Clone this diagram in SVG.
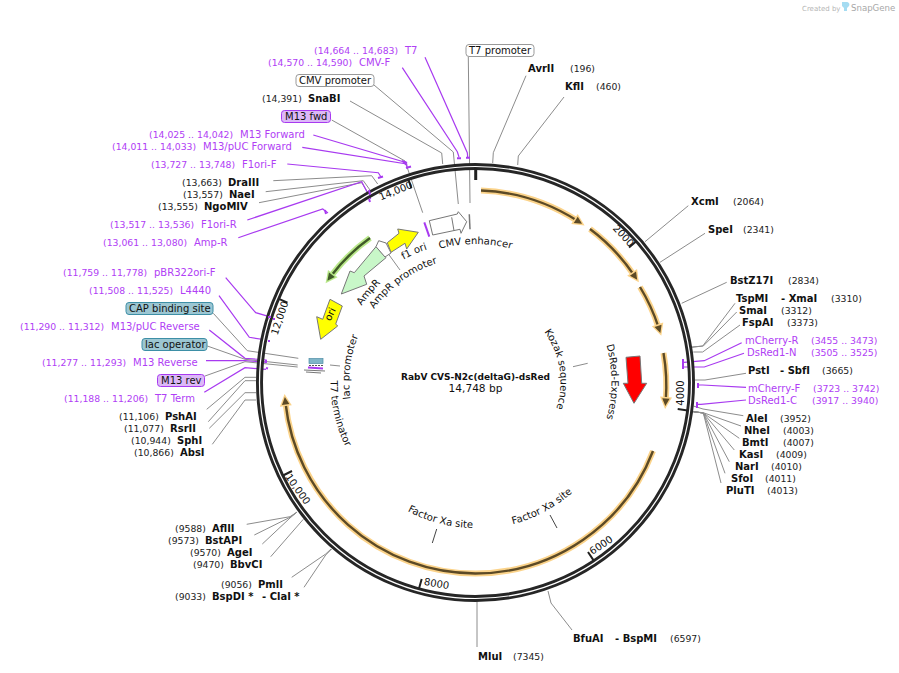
<svg xmlns="http://www.w3.org/2000/svg" xmlns:xlink="http://www.w3.org/1999/xlink" width="899" height="673" viewBox="0 0 899 673">
<style>
text{font-family:"DejaVu Sans",Verdana,sans-serif;font-size:10px;fill:#111}
.b{font-weight:bold}
.n{font-size:9.3px;fill:#222}
.p{fill:#b040f5}
.pn{fill:#b040f5;font-size:9.3px}
.g{fill:none;stroke:#8c8c8c;stroke-width:1}
.v{fill:none;stroke:#a83af0;stroke-width:1.2}
.t{fill:none;stroke:#a83af0;stroke-width:2}
.tick{fill:none;stroke:#222;stroke-width:2}
.box{stroke-width:1}
.halo{fill:none;stroke:#fbd38a;stroke-width:6}
.core{fill:none;stroke:#5c4a26;stroke-width:2.4;marker-end:url(#ah)}
.f{stroke:#777;stroke-width:1}
</style>
<defs>
<marker id="ah" markerUnits="userSpaceOnUse" markerWidth="18" markerHeight="18" refX="5" refY="9" orient="auto" viewBox="0 0 18 18"><polygon points="2,3 14,9 2,15" fill="#fbd38a"/><polygon points="3.500,5.300 11,9 3.500,12.700" fill="#5c4a26"/></marker>
<marker id="ag" markerUnits="userSpaceOnUse" markerWidth="18" markerHeight="18" refX="5" refY="9" orient="auto" viewBox="0 0 18 18"><polygon points="2,3 14,9 2,15" fill="#b9e88a"/><polygon points="3.500,5.300 11,9 3.500,12.700" fill="#3f5a28"/></marker>
<path id="pCMV" d="M386.8 276.3A138 138 0 0 1 564.2 276.3"/>
<path id="pF1" d="M347 318A138 138 0 0 1 508.500 248"/>
<path id="pAP" d="M354.2 351.8A125 125 0 0 1 484.2 257.3"/>
<path id="pA" d="M340.6 358.2A137 137 0 0 1 428.6 253.2"/>
<path id="pO" d="M318.5 382A157 157 0 0 1 374.6 261.7"/>
<path id="pL" d="M369.8 451.2A126 126 0 0 1 389.6 289.9"/>
<path id="pT" d="M346.3 316.2A145 145 0 0 0 388.2 497.8"/>
<path id="pX1" d="M373.3 486.2A146 146 0 0 0 514.8 522.6"/>
<path id="pX2" d="M470.4 528.9A147 147 0 0 0 600.2 459.9"/>
<path id="pK" d="M519.3 309.1A85 85 0 0 1 539.7 437.8"/>
<path id="pD" d="M579.7 294.6A136 136 0 0 1 579.7 469.4"/>
</defs>
<rect width="899" height="673" fill="#fff"/>

<g id="connectors">
<polyline class="g" points="468.3,57 470,203"/>
<polyline class="g" points="374,85 453.3,152 458.3,204"/>
<polyline class="g" points="350,101 441.7,153 442.7,164"/>
<polyline class="g" points="331.7,120 405,161 422.7,212.7"/>
<polyline class="v" points="425,57.3 467.3,152.7 467.7,157"/>
<polyline class="v" points="402.3,67.7 457.3,151.7 459,157"/>
<polyline class="v" points="313.3,135 403.3,161.7 406,165"/>
<polyline class="v" points="302.3,147.3 406.7,164 407,167"/>
<polyline class="v" points="287.3,164 378.3,172.7 381,177"/>
<polyline class="g" points="273.3,180.7 371.7,175.7 377.7,184"/>
<polyline class="g" points="265.7,191.7 363.3,180.7 370,190"/>
<polyline class="g" points="259,202.7 361.7,182.7 367.3,191.7"/>
<polyline class="v" points="247.3,220 361.7,181.7 370.7,199"/>
<polyline class="v" points="238.3,237.7 322.7,209 328,213"/>
<polyline class="v" points="225.7,277.7 255.7,312.7 269.3,316.7"/>
<polyline class="v" points="219,295.7 249.3,337.3 266.7,340"/>
<polyline class="g" points="213.3,313.3 247.3,350.7 298.3,358.3"/>
<polyline class="v" points="209.3,330 245,358.3 266.7,360"/>
<polyline class="g" points="207.3,346 245,359.3 297.7,365"/>
<polyline class="v" points="206,360.7 245,360.7 266.7,362.3"/>
<polyline class="g" points="205,376 245,361.7 297.7,367"/>
<polyline class="v" points="204.3,392.3 245,367.7 266,369.3"/>
<polyline class="g" points="206.7,409.3 245,377.3 256,377.3"/>
<polyline class="g" points="208.3,421.7 245,380.7 256,380.7"/>
<polyline class="g" points="209.3,428.3 245,392.7 256,392.7"/>
<polyline class="g" points="212.3,444.3 245,400 256,400"/>
<polyline class="g" points="526,75.7 493.3,152.7 492.7,163"/>
<polyline class="g" points="564,97 518.3,156 517.7,165"/>
<polyline class="g" points="688.3,205.7 645,241.7"/>
<polyline class="g" points="705,233.3 660,262.3"/>
<polyline class="g" points="726.7,282.3 681.7,303.3"/>
<polyline class="g" points="735,303.3 702.7,346 691.7,347.3"/>
<polyline class="g" points="736.7,312 703.3,346 692,347"/>
<polyline class="g" points="740,325 702.7,352 693.3,352"/>
<polyline class="v" points="741.7,342.7 704.3,360.7 684,362.3"/>
<polyline class="v" points="744,353.3 704.3,367 684,367"/>
<polyline class="g" points="746,373.3 705,380 695,380"/>
<polyline class="v" points="746,387.3 702.7,385 698.3,385"/>
<polyline class="v" points="746,400 701,404.3 697.3,404.3"/>
<polyline class="g" points="743.3,415.7 703,409 693.3,406"/>
<polyline class="g" points="741,426 703.3,412.7 693.3,411.7"/>
<polyline class="g" points="739.3,438.3 703.3,413 693.3,411.7"/>
<polyline class="g" points="734.3,450 703.3,413 693.3,411.7"/>
<polyline class="g" points="729.3,461.7 703.3,413 693.3,411.7"/>
<polyline class="g" points="725,473.3 703.3,413 693.3,411.7"/>
<polyline class="g" points="721,483 703.3,413 693.3,411.7"/>
<polyline class="g" points="572,630 551,603 548,591"/>
<polyline class="g" points="477,647 477,601"/>
<polyline class="g" points="246.7,524.3 290,516.7 296.7,512.3"/>
<polyline class="g" points="254.3,535 290,517.3 296.7,512.3"/>
<polyline class="g" points="262.3,544 290,518 296.7,512.3"/>
<polyline class="g" points="270.7,556.7 303.3,519.3"/>
<polyline class="g" points="291.7,577.3 325.7,554 331,549"/>
<polyline class="g" points="304,587.3 325.7,555 331.7,549"/>
<polyline class="g" points="387,252 400,270"/>
<polyline class="g" points="573,366.7 587.7,363.3"/>
<polyline class="g" points="550,515 557,528" style="stroke:#444"/>
<polyline class="g" points="436.7,529 432.3,543" style="stroke:#444"/>
<polyline class="g" points="330,365 340,366"/>
</g>

<g id="backbone">
<circle cx="475.5" cy="382.5" r="216" fill="none" stroke="#262626" stroke-width="7"/>
<circle cx="475.5" cy="382.5" r="216" fill="none" stroke="#fff" stroke-width="1.2"/>
<path class="tick" style="stroke-width:3" d="M475.7 168V180"/>
<path class="tick" d="M636.6 241L629 247.6M687.6 410.4L677.7 409M593.6 560.4L588 552M419 588.5L421.7 578.9M283 475.5L292 471M278.3 298.7L287.5 302.6M408.3 179L411.4 188.4"/>
<text transform="translate(621 238) rotate(47)" text-anchor="middle">2000</text>
<text transform="translate(684 393) rotate(-90)" text-anchor="middle">4000</text>
<text transform="translate(603 548) rotate(-33)" text-anchor="middle">6000</text>
<text transform="translate(436 587) rotate(10)" text-anchor="middle">8000</text>
<text transform="translate(295 491) rotate(55)" text-anchor="middle">10,000</text>
<text transform="translate(283 319) rotate(-72)" text-anchor="middle">12,000</text>
<text transform="translate(397 194) rotate(-22)" text-anchor="middle">14,000</text>
</g>

<g id="orf-arcs">
<path class="halo" d="M481 190.5A192 192 0 0 1 577 220.6"/><path class="core" d="M481 190.5A192 192 0 0 1 577 220.6"/>
<path class="halo" d="M590 229A191 191 0 0 1 633.8 274.9"/><path class="core" d="M590 229A191 191 0 0 1 633.8 274.9"/>
<path class="halo" d="M640 287A191 191 0 0 1 658.5 327.2"/><path class="core" d="M640 287A191 191 0 0 1 658.5 327.2"/>
<path class="halo" d="M663.5 353A191 191 0 0 1 665.8 400"/><path class="core" d="M663.5 353A191 191 0 0 1 665.8 400"/>
<path class="halo" d="M653 451A191 191 0 0 1 475.5 573.500A191 191 0 0 1 285.5 403"/><path class="core" d="M653 451A191 191 0 0 1 475.5 573.500A191 191 0 0 1 285.5 403"/>
<path d="M370 238A179 179 0 0 0 331 276" fill="none" stroke="#b9e88a" stroke-width="6"/>
<path d="M370 238A179 179 0 0 0 331 276" fill="none" stroke="#3f5a28" stroke-width="2.4" marker-end="url(#ag)"/>
</g>

<g id="DsRed-Express"><polygon class="f" points="626,357.3 640,356 641.7,383.3 646.7,383.3 634,403.3 623.3,383.3 628,383.3" fill="#f00"/><text><textPath href="#pD" xlink:href="#pD" startOffset="50%" text-anchor="middle">DsRed-Express</textPath></text></g>
<g id="ori"><polygon class="f" points="330,299.3 342.3,306 335.7,324 337.7,326 320.7,339.3 316.7,316.7 322.7,319.3" fill="#ff0"/><text><textPath href="#pO" xlink:href="#pO" startOffset="50%" text-anchor="middle">ori</textPath></text></g>
<g id="f1-ori"><polygon class="f" points="387.3,242.7 399,233.3 397.7,229 418.3,232.3 406.7,249 405,243.3 391,252.3" fill="#ff0"/><text><textPath href="#pF1" xlink:href="#pF1" startOffset="50%" text-anchor="middle">f1 ori</textPath></text></g>
<g id="AmpR"><polygon class="f" points="376,246.7 386,257.7 364,276 366.7,284.3 341.3,294 350,271 354.3,272.7" fill="#c8f7c8"/><text><textPath href="#pA" xlink:href="#pA" startOffset="50%" text-anchor="middle">AmpR</textPath></text></g>
<g id="AmpR-promoter"><polygon class="f" points="378.7,240.7 386,243 391,253 385,257 376,246.7" fill="#fff"/><text><textPath href="#pAP" xlink:href="#pAP" startOffset="50%" text-anchor="middle">AmpR promoter</textPath></text></g>
<g id="CMV-enhancer"><polygon class="f" points="429.3,220.7 457.3,214 458.3,211.7 466.7,221.7 461,233.3 460,229.3 432.7,235" fill="#fff"/><path class="f" d="M451.7 217.3L454 230.7" fill="none"/><text><textPath href="#pCMV" xlink:href="#pCMV" startOffset="50%" text-anchor="middle">CMV enhancer</textPath></text></g>
<g id="site-bars"><path d="M424.3 222.3L429.3 236.7" stroke="#a83af0" stroke-width="2" fill="none"/><path d="M469.3 214.3L470 229.3" stroke="#777" stroke-width="1.5" fill="none"/></g>
<g id="lac-stack"><rect x="309" y="358.5" width="14" height="5" fill="#7fb5c8" stroke="#4d8ea6" stroke-width=".7"/><path d="M309 365.5h14" stroke="#555" stroke-dasharray="2 1" fill="none"/><path d="M308 367.5l15 1" stroke="#a83af0" stroke-width="2" fill="none"/><path class="f" d="M304 370l21 1M306 372l15 1" fill="none"/></g>
<g id="lac-promoter"><text><textPath href="#pL" xlink:href="#pL" startOffset="50%" text-anchor="middle">lac promoter</textPath></text></g>
<g id="T7-terminator"><text><textPath href="#pT" xlink:href="#pT" startOffset="50%" text-anchor="middle">T7 terminator</textPath></text></g>
<g id="Factor-Xa-1"><text><textPath href="#pX1" xlink:href="#pX1" startOffset="50%" text-anchor="middle">Factor Xa site</textPath></text></g>
<g id="Factor-Xa-2"><text><textPath href="#pX2" xlink:href="#pX2" startOffset="50%" text-anchor="middle">Factor Xa site</textPath></text></g>
<g id="Kozak"><text><textPath href="#pK" xlink:href="#pK" startOffset="50%" text-anchor="middle">Kozak sequence</textPath></text></g>
<g id="title"><text class="b" x="475.5" y="380" text-anchor="middle" style="font-size:9px">RabV CVS-N2c(deltaG)-dsRed</text><text x="475.5" y="392" text-anchor="middle" style="font-size:10.6px">14,748 bp</text></g>

<g id="primer-tabs">
<path class="t" d="M457 158.3h4M466 157.7h4M402 161l5 2M406 168l5-1.500M378 178l5-1.500M369 190l1 5M369 199l1 3M325 210l1 4M268 317h3M273 319h2M268 341h2M266 360v3M266 368l2 .5M683 359v6M683 365v4M698 383v5M697 402v6"/>
</g>

<g id="T7"><text class="pn" x="314" y="54">(14,664 .. 14,683)</text><text class="p" x="405" y="54">T7</text></g>
<g id="CMV-F"><text class="pn" x="268" y="66">(14,570 .. 14,590)</text><text class="p" x="359" y="66">CMV-F</text></g>
<g id="T7-promoter"><rect class="box" x="466" y="44.500" width="68" height="12" rx="3" fill="#fff" stroke="#999"/><text x="469" y="54">T7 promoter</text></g>
<g id="CMV-promoter"><rect class="box" x="296" y="74.500" width="78" height="12" rx="3" fill="#fff" stroke="#999"/><text x="299" y="84">CMV promoter</text></g>
<g id="SnaBI"><text class="n" x="262" y="102">(14,391)</text><text class="b" x="308" y="102">SnaBI</text></g>
<g id="M13-fwd"><rect class="box" x="281.500" y="110.500" width="49" height="12" rx="3" fill="#dcb8f7" stroke="#a83af0"/><text x="285" y="120">M13 fwd</text></g>
<g id="M13-Forward"><text class="pn" x="149" y="138">(14,025 .. 14,042)</text><text class="p" x="240" y="138">M13 Forward</text></g>
<g id="M13-pUC-Forward"><text class="pn" x="112" y="150">(14,011 .. 14,033)</text><text class="p" x="203" y="150">M13/pUC Forward</text></g>
<g id="F1ori-F"><text class="pn" x="151" y="168">(13,727 .. 13,748)</text><text class="p" x="242" y="168">F1ori-F</text></g>
<g id="DraIII"><text class="n" x="182" y="186">(13,663)</text><text class="b" x="228" y="186">DraIII</text></g>
<g id="NaeI"><text class="n" x="183" y="198">(13,557)</text><text class="b" x="229" y="198">NaeI</text></g>
<g id="NgoMIV"><text class="n" x="158" y="210">(13,555)</text><text class="b" x="204" y="210">NgoMIV</text></g>
<g id="F1ori-R"><text class="pn" x="110" y="228">(13,517 .. 13,536)</text><text class="p" x="201" y="228">F1ori-R</text></g>
<g id="Amp-R"><text class="pn" x="103" y="246">(13,061 .. 13,080)</text><text class="p" x="194" y="246">Amp-R</text></g>
<g id="pBR322ori-F"><text class="pn" x="63" y="276">(11,759 .. 11,778)</text><text class="p" x="154" y="276">pBR322ori-F</text></g>
<g id="L4440"><text class="pn" x="89" y="294">(11,508 .. 11,525)</text><text class="p" x="180" y="294">L4440</text></g>
<g id="CAP-binding-site"><rect class="box" x="126" y="302.500" width="87" height="12" rx="3" fill="#9cc6d2" stroke="#3d8fa6"/><text x="129" y="312">CAP binding site</text></g>
<g id="M13-pUC-Reverse"><text class="pn" x="20" y="330">(11,290 .. 11,312)</text><text class="p" x="111" y="330">M13/pUC Reverse</text></g>
<g id="lac-operator"><rect class="box" x="142" y="338.500" width="65" height="12" rx="3" fill="#9cc6d2" stroke="#3d8fa6"/><text x="145" y="348">lac operator</text></g>
<g id="M13-Reverse"><text class="pn" x="42" y="366">(11,277 .. 11,293)</text><text class="p" x="133" y="366">M13 Reverse</text></g>
<g id="M13-rev"><rect class="box" x="157.500" y="374.500" width="47" height="12" rx="3" fill="#dcb8f7" stroke="#a83af0"/><text x="161" y="384">M13 rev</text></g>
<g id="T7-Term"><text class="pn" x="64" y="402">(11,188 .. 11,206)</text><text class="p" x="155" y="402">T7 Term</text></g>
<g id="PshAI"><text class="n" x="119" y="420">(11,106)</text><text class="b" x="165" y="420">PshAI</text></g>
<g id="RsrII"><text class="n" x="124" y="432">(11,077)</text><text class="b" x="170" y="432">RsrII</text></g>
<g id="SphI"><text class="n" x="131" y="444">(10,944)</text><text class="b" x="177" y="444">SphI</text></g>
<g id="AbsI"><text class="n" x="134" y="456">(10,866)</text><text class="b" x="180" y="456">AbsI</text></g>
<g id="AvrII"><text class="b" x="528" y="72">AvrII</text><text class="n" x="570" y="72">(196)</text></g>
<g id="KflI"><text class="b" x="565" y="90">KflI</text><text class="n" x="596" y="90">(460)</text></g>
<g id="XcmI"><text class="b" x="691" y="205">XcmI</text><text class="n" x="733" y="205">(2064)</text></g>
<g id="SpeI"><text class="b" x="708" y="233">SpeI</text><text class="n" x="743" y="233">(2341)</text></g>
<g id="BstZ17I"><text class="b" x="730" y="284">BstZ17I</text><text class="n" x="788" y="284">(2834)</text></g>
<g id="TspMI-XmaI"><text class="b" x="736" y="302">TspMI</text><text class="b" x="781" y="302">- XmaI</text><text class="n" x="831" y="302">(3310)</text></g>
<g id="SmaI"><text class="b" x="739" y="314">SmaI</text><text class="n" x="781" y="314">(3312)</text></g>
<g id="FspAI"><text class="b" x="742" y="326">FspAI</text><text class="n" x="787" y="326">(3373)</text></g>
<g id="mCherry-R"><text class="p" x="745" y="344">mCherry-R</text><text class="pn" x="811" y="344">(3455 .. 3473)</text></g>
<g id="DsRed1-N"><text class="p" x="747" y="356">DsRed1-N</text><text class="pn" x="811" y="356">(3505 .. 3525)</text></g>
<g id="PstI-SbfI"><text class="b" x="748" y="374">PstI</text><text class="b" x="780" y="374">- SbfI</text><text class="n" x="822" y="374">(3665)</text></g>
<g id="mCherry-F"><text class="p" x="748" y="392">mCherry-F</text><text class="pn" x="813" y="392">(3723 .. 3742)</text></g>
<g id="DsRed1-C"><text class="p" x="748" y="404">DsRed1-C</text><text class="pn" x="812" y="404">(3917 .. 3940)</text></g>
<g id="AleI"><text class="b" x="746" y="422">AleI</text><text class="n" x="780" y="422">(3952)</text></g>
<g id="NheI"><text class="b" x="744" y="434">NheI</text><text class="n" x="783" y="434">(4003)</text></g>
<g id="BmtI"><text class="b" x="742" y="446">BmtI</text><text class="n" x="783" y="446">(4007)</text></g>
<g id="KasI"><text class="b" x="739" y="458">KasI</text><text class="n" x="776" y="458">(4009)</text></g>
<g id="NarI"><text class="b" x="735" y="470">NarI</text><text class="n" x="771" y="470">(4010)</text></g>
<g id="SfoI"><text class="b" x="731" y="482">SfoI</text><text class="n" x="765" y="482">(4011)</text></g>
<g id="PluTI"><text class="b" x="726" y="494">PluTI</text><text class="n" x="767" y="494">(4013)</text></g>
<g id="BfuAI-BspMI"><text class="b" x="573" y="642">BfuAI</text><text class="b" x="615" y="642">- BspMI</text><text class="n" x="670" y="642">(6597)</text></g>
<g id="MluI"><text class="b" x="478" y="660">MluI</text><text class="n" x="513" y="660">(7345)</text></g>
<g id="AflII"><text class="n" x="175" y="532">(9588)</text><text class="b" x="212" y="532">AflII</text></g>
<g id="BstAPI"><text class="n" x="168" y="544">(9573)</text><text class="b" x="205" y="544">BstAPI</text></g>
<g id="AgeI"><text class="n" x="190" y="556">(9570)</text><text class="b" x="227" y="556">AgeI</text></g>
<g id="BbvCI"><text class="n" x="193" y="568">(9470)</text><text class="b" x="230" y="568">BbvCI</text></g>
<g id="PmlI"><text class="n" x="221" y="588">(9056)</text><text class="b" x="258" y="588">PmlI</text></g>
<g id="BspDI-ClaI"><text class="n" x="175" y="600">(9033)</text><text class="b" x="212" y="600">BspDI *</text><text class="b" x="262" y="600">- ClaI *</text></g>

<g id="credit"><text x="802" y="11" style="font-size:7px;fill:#b5b5b5">Created by</text><path d="M842 2h4c3 0 4 2 3 4l-2 2v3h-3v-3l-2-2z" fill="#a5dcf2"/><text x="851" y="11" style="font-size:8.6px;fill:#a8a8a8">SnapGene</text></g>
</svg>
